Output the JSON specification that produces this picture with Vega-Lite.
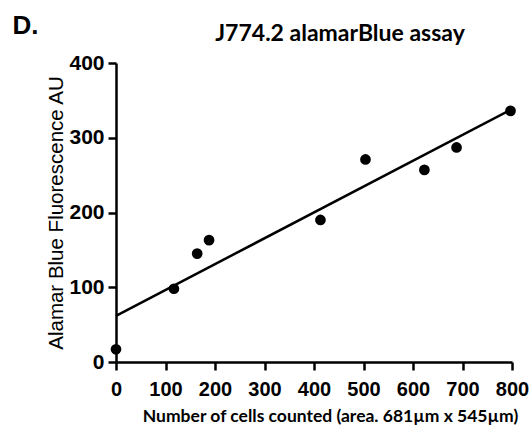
{
  "$schema": "https://vega.github.io/schema/vega-lite/v6.json",
  "width": 396,
  "height": 299,
  "autosize": {"type": "none"},
  "padding": {"left": 116, "top": 63, "right": 20, "bottom": 64},
  "background": "white",
  "config": {"view": {"stroke": null}},
  "title": {"text": "J774.2 alamarBlue assay", "font": "Lato", "fontSize": 23, "fontWeight": "bold", "color": "black", "anchor": "middle", "dx": 26, "offset": -34},
  "data": {"values": [
    {"cells": 0, "fluor": 17},
    {"cells": 117, "fluor": 98},
    {"cells": 164, "fluor": 145},
    {"cells": 188, "fluor": 163},
    {"cells": 413, "fluor": 190},
    {"cells": 504, "fluor": 271},
    {"cells": 623, "fluor": 257},
    {"cells": 688, "fluor": 287},
    {"cells": 797, "fluor": 336}
  ]},
  "layer": [
    {
      "mark": {"type": "point", "filled": true, "size": 115, "color": "black", "opacity": 1},
      "encoding": {
        "x": {"field": "cells", "type": "quantitative", "scale": {"domain": [0, 800], "nice": false},
          "axis": {"values": [0,100,200,300,400,500,600,700,800], "grid": false, "domainColor": "black", "domainWidth": 2.5, "tickColor": "black", "tickWidth": 2.5, "tickSize": 8,
            "labelFont": "Liberation Sans", "labelFontWeight": "bold", "labelFontSize": 20, "labelColor": "black", "labelPadding": 9, "labelFlush": false,
            "title": "Number of cells counted (area. 681µm x 545µm)", "titleFont": "Lato", "titleFontWeight": "bold", "titleFontSize": 17.5, "titleColor": "black", "titleX": 214, "titleY": 59, "titleBaseline": "alphabetic", "titleAlign": "center"}},
        "y": {"field": "fluor", "type": "quantitative", "scale": {"domain": [0, 400], "nice": false},
          "axis": {"values": [0,100,200,300,400], "grid": false, "domainColor": "black", "domainWidth": 2.5, "tickColor": "black", "tickWidth": 2.5, "tickSize": 8,
            "labelFont": "Liberation Sans", "labelFontWeight": "bold", "labelFontSize": 21, "labelColor": "black", "labelPadding": 4, "labelFlush": false,
            "title": "Alamar Blue Fluorescence AU", "titleFont": "Liberation Sans", "titleFontWeight": "normal", "titleFontSize": 20.5, "titleColor": "black", "titlePadding": 2}}
      }
    },
    {
      "transform": [{"regression": "fluor", "on": "cells", "extent": [0, 800]}],
      "mark": {"type": "line", "color": "black", "strokeWidth": 2.5},
      "encoding": {
        "x": {"field": "cells", "type": "quantitative",
          "axis": {"orient": "top", "domain": false, "ticks": false, "labels": false, "grid": false,
            "title": "D.", "titleFont": "Liberation Sans", "titleFontWeight": "bold", "titleFontSize": 26, "titleColor": "black", "titleX": -104, "titleY": -30, "titleAlign": "left", "titleBaseline": "alphabetic", "titleAngle": 0}},
        "y": {"field": "fluor", "type": "quantitative"}
      }
    }
  ],
  "resolve": {"axis": {"x": "independent"}}
}
